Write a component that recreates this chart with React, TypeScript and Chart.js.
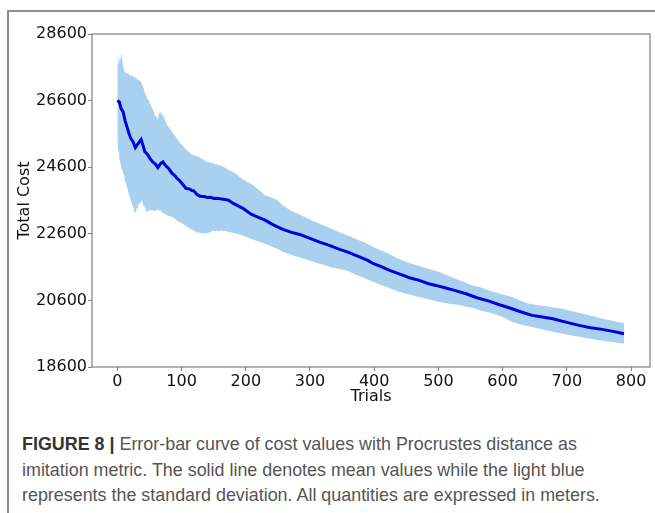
import React, { useEffect, useRef } from "react";
import { Chart, registerables } from "chart.js";

Chart.register(...registerables);

// Mean cost per trial
const meanTrials = [0, 3, 6, 9, 12, 15, 18, 21, 24, 28, 32, 37, 40, 43, 47, 51, 55, 59, 63, 67, 71, 75, 80, 85, 90, 93, 97, 102, 107, 112, 116, 119, 124, 129, 135, 140, 145, 150, 155, 160, 165, 170, 173, 180, 188, 196, 203, 209, 218, 230, 240, 250, 258, 270, 284, 300, 315, 330, 346, 359, 375, 390, 398, 410, 424, 440, 455, 470, 485, 496, 510, 525, 543, 560, 579, 595, 610, 628, 646, 662, 678, 700, 719, 737, 755, 772, 789];
const meanCost = [26600, 26560, 26350, 26260, 26000, 25810, 25620, 25460, 25380, 25190, 25300, 25430, 25250, 25060, 24980, 24860, 24760, 24700, 24590, 24700, 24760, 24650, 24560, 24420, 24340, 24260, 24200, 24080, 23960, 23950, 23900, 23890, 23780, 23730, 23720, 23690, 23700, 23660, 23670, 23650, 23640, 23620, 23610, 23520, 23440, 23360, 23260, 23180, 23110, 23010, 22900, 22800, 22730, 22650, 22580, 22460, 22350, 22250, 22130, 22050, 21920, 21800, 21710, 21620, 21500, 21390, 21280, 21200, 21100, 21050, 20980, 20900, 20800, 20680, 20580, 20470, 20380, 20260, 20150, 20100, 20050, 19940, 19850, 19780, 19730, 19670, 19600];

// Mean + standard deviation (upper edge of the band)
const upperTrials = [0, 1, 2, 3, 4, 5, 6, 7, 8, 9, 10, 11, 12, 13, 14, 15, 16, 17, 18, 20, 21, 22, 23, 25, 26, 27, 29, 31, 32, 34, 36, 38, 40, 41, 42, 44, 45, 46, 48, 49, 50, 52, 53, 54, 56, 57, 58, 60, 61, 62, 63, 64, 66, 67, 68, 69, 70, 72, 73, 74, 76, 77, 79, 80, 82, 83, 85, 87, 88, 90, 91, 93, 95, 96, 98, 100, 101, 103, 105, 106, 108, 110, 111, 113, 114, 116, 117, 119, 121, 122, 124, 126, 127, 129, 131, 132, 134, 135, 137, 138, 140, 142, 145, 147, 150, 153, 155, 158, 160, 163, 165, 175, 180, 186, 191, 196, 204, 212, 221, 230, 239, 248, 258, 269, 279, 290, 302, 315, 325, 335, 347, 359, 370, 380, 390, 398, 412, 425, 437, 450, 462, 475, 489, 502, 516, 530, 542, 553, 564, 579, 590, 600, 615, 628, 641, 653, 665, 680, 693, 707, 720, 733, 745, 758, 770, 780, 789];
const upperCost = [27900, 27700, 28000, 27780, 27900, 27820, 27980, 28060, 27780, 27650, 27560, 27480, 27440, 27500, 27420, 27460, 27400, 27430, 27380, 27360, 27400, 27330, 27360, 27300, 27330, 27270, 27300, 27220, 27260, 27200, 27190, 27100, 27020, 26960, 26880, 26760, 26790, 26680, 26620, 26660, 26520, 26460, 26420, 26390, 26280, 26320, 26180, 26110, 26140, 26040, 26080, 26160, 26240, 26200, 26280, 26220, 26190, 26100, 26130, 26000, 25940, 25860, 25850, 25790, 25770, 25720, 25690, 25620, 25600, 25520, 25540, 25430, 25400, 25350, 25330, 25270, 25280, 25200, 25180, 25140, 25120, 25080, 25050, 25040, 25000, 24990, 24970, 24960, 24970, 24930, 24940, 24900, 24920, 24880, 24860, 24840, 24830, 24800, 24790, 24770, 24750, 24760, 24720, 24730, 24700, 24680, 24700, 24650, 24660, 24620, 24610, 24500, 24460, 24380, 24300, 24220, 24140, 24050, 23900, 23760, 23700, 23620, 23460, 23310, 23220, 23120, 23010, 22900, 22820, 22740, 22640, 22550, 22460, 22380, 22290, 22200, 22090, 21980, 21860, 21750, 21680, 21600, 21520, 21450, 21330, 21230, 21130, 21050, 21000, 20900, 20830, 20780, 20700, 20590, 20500, 20460, 20430, 20390, 20350, 20280, 20220, 20160, 20100, 20040, 19990, 19950, 19920];

// Mean - standard deviation (lower edge of the band)
const lowerTrials = [0, 1, 2, 3, 4, 5, 6, 7, 8, 10, 11, 12, 13, 15, 16, 17, 18, 20, 21, 22, 23, 24, 26, 27, 28, 29, 30, 31, 32, 33, 34, 35, 36, 37, 38, 39, 40, 41, 42, 43, 44, 45, 46, 48, 49, 50, 52, 53, 55, 56, 58, 60, 61, 63, 64, 66, 67, 69, 70, 72, 74, 75, 77, 78, 80, 82, 84, 86, 87, 89, 91, 93, 95, 97, 99, 101, 103, 105, 107, 109, 110, 112, 114, 116, 117, 119, 121, 123, 124, 126, 128, 130, 132, 134, 137, 139, 141, 144, 146, 148, 150, 152, 155, 158, 160, 163, 165, 175, 180, 186, 191, 196, 203, 210, 220, 230, 238, 245, 252, 258, 266, 275, 285, 295, 305, 315, 325, 335, 346, 359, 367, 375, 386, 398, 411, 425, 437, 450, 462, 475, 489, 502, 516, 530, 542, 553, 566, 579, 590, 600, 608, 615, 628, 640, 654, 667, 680, 693, 706, 719, 732, 745, 758, 770, 780, 789];
const lowerCost = [25400, 25200, 25100, 24950, 24800, 24700, 24650, 24560, 24500, 24380, 24300, 24200, 24150, 24000, 23950, 23880, 23800, 23690, 23620, 23560, 23500, 23440, 23330, 23260, 23200, 23280, 23340, 23420, 23380, 23500, 23460, 23560, 23520, 23590, 23610, 23550, 23520, 23440, 23460, 23380, 23330, 23300, 23250, 23300, 23270, 23330, 23320, 23280, 23330, 23290, 23270, 23320, 23300, 23350, 23310, 23290, 23310, 23250, 23230, 23220, 23180, 23200, 23150, 23160, 23130, 23140, 23100, 23110, 23090, 23050, 23030, 22990, 22980, 22950, 22940, 22910, 22890, 22860, 22830, 22810, 22790, 22770, 22750, 22730, 22720, 22690, 22670, 22660, 22640, 22640, 22630, 22620, 22630, 22610, 22620, 22630, 22620, 22640, 22660, 22690, 22700, 22680, 22690, 22670, 22700, 22690, 22700, 22650, 22630, 22600, 22570, 22550, 22490, 22440, 22370, 22300, 22240, 22180, 22120, 22050, 22000, 21940, 21880, 21830, 21760, 21700, 21640, 21580, 21540, 21480, 21410, 21350, 21260, 21160, 21060, 20960, 20870, 20800, 20740, 20680, 20610, 20550, 20500, 20470, 20420, 20380, 20300, 20240, 20170, 20100, 20020, 19950, 19880, 19820, 19760, 19700, 19650, 19600, 19550, 19510, 19460, 19420, 19380, 19350, 19320, 19300];

const xTicks = [0, 100, 200, 300, 400, 500, 600, 700, 800];
const yTicks = [18600, 20600, 22600, 24600, 26600, 28600];

const toPoints = (xs: number[], ys: number[]) => xs.map((x, i) => ({ x, y: ys[i] }));

const boxPlugin = {
  id: "spineBox",
  afterDatasetsDraw(chart: any) {
    const { ctx, chartArea } = chart;
    ctx.save();
    ctx.strokeStyle = "#808080";
    ctx.lineWidth = 1.2;
    ctx.strokeRect(chartArea.left, chartArea.top, chartArea.right - chartArea.left, chartArea.bottom - chartArea.top);
    ctx.restore();
  },
};

export default function App() {
  const ref = useRef<HTMLCanvasElement | null>(null);
  useEffect(() => {
    if (!ref.current) return;
    const tickFont = { family: "'DejaVu Sans'", size: 16 };
    const chart = new Chart(ref.current, {
      type: "line",
      data: {
        datasets: [
          {
            label: "upper",
            data: toPoints(upperTrials, upperCost),
            borderWidth: 0,
            borderColor: "rgba(0,0,0,0)",
            backgroundColor: "#a9d1ef",
            pointRadius: 0,
            fill: "+1",
            order: 2,
          },
          {
            label: "lower",
            data: toPoints(lowerTrials, lowerCost),
            borderWidth: 0,
            borderColor: "rgba(0,0,0,0)",
            backgroundColor: "#a9d1ef",
            pointRadius: 0,
            fill: false,
            order: 2,
          },
          {
            label: "mean",
            data: toPoints(meanTrials, meanCost),
            borderWidth: 3,
            borderColor: "#0000dc",
            pointRadius: 0,
            fill: false,
            order: 1,
          },
        ],
      },
      options: {
        animation: false,
        responsive: false,
        maintainAspectRatio: false,
        layout: { padding: { left: 0, right: 5, top: 34, bottom: 0 } },
        plugins: { legend: { display: false }, tooltip: { enabled: false } },
        scales: {
          x: {
            type: "linear",
            min: -39.5,
            max: 829.5,
            afterBuildTicks: (axis: any) => {
              axis.ticks = xTicks.map((v) => ({ value: v }));
            },
            afterFit: (axis: any) => {
              axis.height = 43;
            },
            grid: { drawOnChartArea: false, tickLength: 4, color: "#808080" },
            border: { display: false },
            ticks: { font: tickFont, color: "#111", padding: 1, maxRotation: 0, autoSkip: false },
            title: { display: true, text: "Trials", font: tickFont, color: "#111", padding: { top: 0, bottom: 4 } },
          },
          y: {
            type: "linear",
            min: 18600,
            max: 28600,
            afterBuildTicks: (axis: any) => {
              axis.ticks = yTicks.map((v) => ({ value: v }));
            },
            afterFit: (axis: any) => {
              axis.width = 92;
            },
            grid: { drawOnChartArea: false, tickLength: 4, color: "#808080" },
            border: { display: false },
            ticks: { font: tickFont, color: "#111", padding: 1, autoSkip: false, callback: (v: any) => String(v) },
            title: { display: true, text: "Total Cost", font: tickFont, color: "#111", padding: { top: 15, bottom: 0 } },
          },
        },
      },
      plugins: [boxPlugin],
    });
    return () => chart.destroy();
  }, []);

  return (
    <div>
      <div
        style={{
          position: "absolute",
          left: 7,
          top: 10,
          width: 648,
          height: 503,
          borderTop: "2px solid #8c8c8c",
          borderLeft: "2px solid #8c8c8c",
          boxSizing: "border-box",
        }}
      />
      <canvas
        ref={ref}
        width={655}
        height={410}
        style={{ position: "absolute", left: 0, top: 0, width: 655, height: 410 }}
      />
      <div
        style={{
          position: "absolute",
          left: 22,
          top: 432,
          fontFamily: "'Liberation Sans', Arial, sans-serif",
          fontSize: 17.9,
          lineHeight: "25.5px",
          color: "#555",
          whiteSpace: "nowrap",
        }}
      >
        <span style={{ fontWeight: "bold", color: "#333" }}>FIGURE 8 |</span> Error-bar curve of cost values with Procrustes distance as
        <br />
        imitation metric. The solid line denotes mean values while the light blue
        <br />
        represents the standard deviation. All quantities are expressed in meters.
      </div>
    </div>
  );
}
